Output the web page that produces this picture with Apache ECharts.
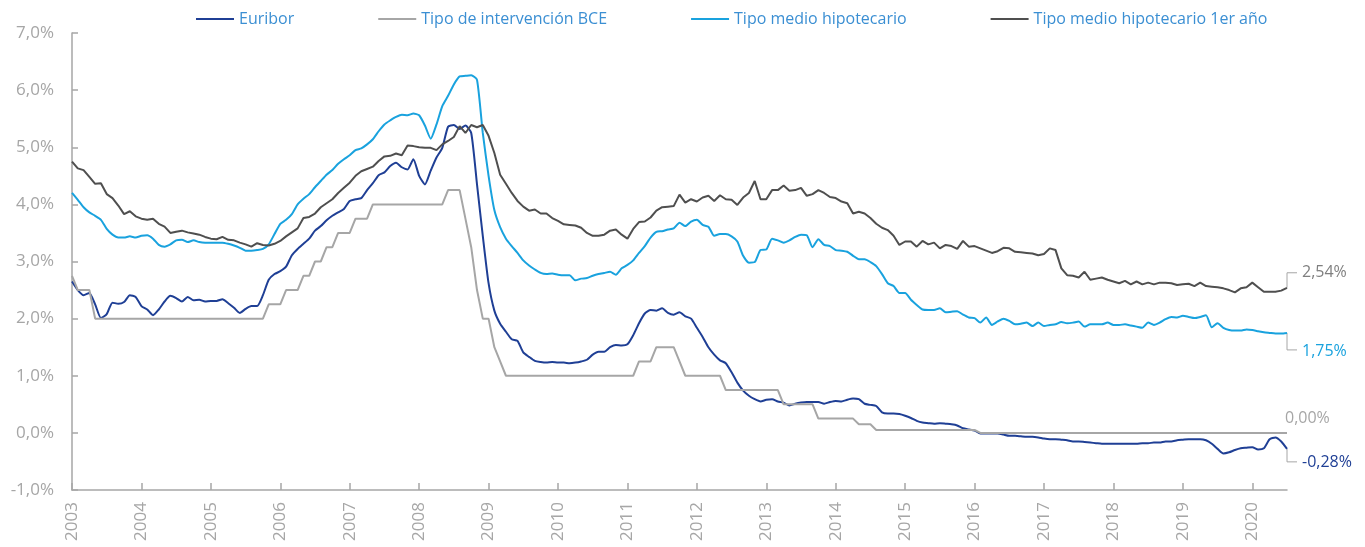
<!DOCTYPE html>
<html>
<head>
<meta charset="utf-8">
<script src="https://cdn.jsdelivr.net/npm/echarts/dist/echarts.min.js"></script>
<style>
html, body { margin: 0; padding: 0; background: #fff; }
#main { width: 1365px; height: 547px; }
</style>
</head>
<body>
<div id="main"></div>
<script>
// años del eje (datos mensuales ene 2003 - jul 2020)
var years = ['2003', '2004', '2005', '2006', '2007', '2008', '2009', '2010', '2011',
    '2012', '2013', '2014', '2015', '2016', '2017', '2018', '2019', '2020'];
var seriesNames = ['Euribor', 'Tipo de intervención BCE', 'Tipo medio hipotecario', 'Tipo medio hipotecario 1er año'];

var euribor = [
    2.65, 2.50, 2.41, 2.45, 2.25, 2.01, 2.08, 2.28, 2.26, 2.29, 2.41, 2.38,
    2.22, 2.16, 2.06, 2.16, 2.30, 2.40, 2.36, 2.30, 2.38, 2.32, 2.33, 2.30,
    2.31, 2.31, 2.34, 2.27, 2.19, 2.10, 2.17, 2.22, 2.22, 2.41, 2.68, 2.78,
    2.83, 2.91, 3.11, 3.22, 3.31, 3.40, 3.54, 3.62, 3.72, 3.80, 3.86, 3.92,
    4.06, 4.09, 4.11, 4.25, 4.37, 4.51, 4.56, 4.67, 4.73, 4.65, 4.61, 4.79,
    4.50, 4.35, 4.59, 4.82, 4.99, 5.36, 5.39, 5.32, 5.38, 5.25, 4.35, 3.45,
    2.62, 2.14, 1.91, 1.77, 1.64, 1.61, 1.41, 1.33, 1.26, 1.24, 1.23, 1.24,
    1.23, 1.23, 1.22, 1.23, 1.25, 1.28, 1.37, 1.42, 1.42, 1.50, 1.54, 1.53,
    1.55, 1.71, 1.92, 2.09, 2.15, 2.14, 2.18, 2.10, 2.07, 2.11, 2.04, 2.00,
    1.84, 1.68, 1.50, 1.37, 1.27, 1.22, 1.06, 0.88, 0.74, 0.65, 0.59, 0.55,
    0.58, 0.59, 0.55, 0.53, 0.48, 0.51, 0.53, 0.54, 0.54, 0.54, 0.51, 0.54,
    0.56, 0.55, 0.58, 0.60, 0.59, 0.51, 0.49, 0.47, 0.36, 0.34, 0.34, 0.33,
    0.30, 0.26, 0.21, 0.18, 0.17, 0.16, 0.17, 0.16, 0.15, 0.13, 0.08, 0.06,
    0.04, -0.01, -0.01, -0.01, -0.01, -0.03, -0.05, -0.05, -0.06, -0.07, -0.07, -0.08,
    -0.10, -0.11, -0.11, -0.12, -0.13, -0.15, -0.15, -0.16, -0.17, -0.18, -0.19, -0.19,
    -0.19, -0.19, -0.19, -0.19, -0.19, -0.18, -0.18, -0.17, -0.17, -0.15, -0.15, -0.13,
    -0.12, -0.11, -0.11, -0.11, -0.13, -0.19, -0.28, -0.36, -0.34, -0.30, -0.27, -0.26,
    -0.25, -0.29, -0.27, -0.11, -0.08, -0.15, -0.28
];

var tipoBCE = [
    2.75, 2.50, 2.50, 2.50, 2.00, 2.00, 2.00, 2.00, 2.00, 2.00, 2.00, 2.00,
    2.00, 2.00, 2.00, 2.00, 2.00, 2.00, 2.00, 2.00, 2.00, 2.00, 2.00, 2.00,
    2.00, 2.00, 2.00, 2.00, 2.00, 2.00, 2.00, 2.00, 2.00, 2.00, 2.25, 2.25,
    2.25, 2.50, 2.50, 2.50, 2.75, 2.75, 3.00, 3.00, 3.25, 3.25, 3.50, 3.50,
    3.50, 3.75, 3.75, 3.75, 4.00, 4.00, 4.00, 4.00, 4.00, 4.00, 4.00, 4.00,
    4.00, 4.00, 4.00, 4.00, 4.00, 4.25, 4.25, 4.25, 3.75, 3.25, 2.50, 2.00,
    2.00, 1.50, 1.25, 1.00, 1.00, 1.00, 1.00, 1.00, 1.00, 1.00, 1.00, 1.00,
    1.00, 1.00, 1.00, 1.00, 1.00, 1.00, 1.00, 1.00, 1.00, 1.00, 1.00, 1.00,
    1.00, 1.00, 1.25, 1.25, 1.25, 1.50, 1.50, 1.50, 1.50, 1.25, 1.00, 1.00,
    1.00, 1.00, 1.00, 1.00, 1.00, 0.75, 0.75, 0.75, 0.75, 0.75, 0.75, 0.75,
    0.75, 0.75, 0.75, 0.50, 0.50, 0.50, 0.50, 0.50, 0.50, 0.25, 0.25, 0.25,
    0.25, 0.25, 0.25, 0.25, 0.15, 0.15, 0.15, 0.05, 0.05, 0.05, 0.05, 0.05,
    0.05, 0.05, 0.05, 0.05, 0.05, 0.05, 0.05, 0.05, 0.05, 0.05, 0.05, 0.05,
    0.05, 0.00, 0.00, 0.00, 0.00, 0.00, 0.00, 0.00, 0.00, 0.00, 0.00, 0.00,
    0.00, 0.00, 0.00, 0.00, 0.00, 0.00, 0.00, 0.00, 0.00, 0.00, 0.00, 0.00,
    0.00, 0.00, 0.00, 0.00, 0.00, 0.00, 0.00, 0.00, 0.00, 0.00, 0.00, 0.00,
    0.00, 0.00, 0.00, 0.00, 0.00, 0.00, 0.00, 0.00, 0.00, 0.00, 0.00, 0.00,
    0.00, 0.00, 0.00, 0.00, 0.00, 0.00, 0.00
];

var tipoHipotecario = [
    4.20, 4.08, 3.95, 3.86, 3.80, 3.73, 3.57, 3.47, 3.42, 3.42, 3.44, 3.42,
    3.45, 3.46, 3.40, 3.29, 3.26, 3.30, 3.37, 3.38, 3.34, 3.37, 3.34, 3.33,
    3.33, 3.33, 3.33, 3.31, 3.28, 3.24, 3.19, 3.19, 3.20, 3.22, 3.30, 3.48,
    3.66, 3.73, 3.83, 4.00, 4.10, 4.18, 4.30, 4.41, 4.52, 4.60, 4.71, 4.79,
    4.86, 4.95, 4.98, 5.05, 5.14, 5.28, 5.40, 5.47, 5.53, 5.57, 5.56, 5.59,
    5.56, 5.38, 5.15, 5.40, 5.72, 5.90, 6.10, 6.24, 6.25, 6.26, 6.18, 5.25,
    4.50, 3.90, 3.60, 3.40, 3.27, 3.15, 3.02, 2.93, 2.86, 2.80, 2.78, 2.79,
    2.77, 2.76, 2.76, 2.67, 2.70, 2.71, 2.75, 2.78, 2.80, 2.82, 2.77, 2.88,
    2.94, 3.02, 3.15, 3.27, 3.42, 3.52, 3.53, 3.56, 3.58, 3.68, 3.62, 3.70,
    3.73, 3.64, 3.61, 3.45, 3.48, 3.48, 3.44, 3.35, 3.10, 2.98, 2.99, 3.20,
    3.21, 3.40, 3.37, 3.33, 3.37, 3.43, 3.47, 3.46, 3.25, 3.39, 3.29, 3.27,
    3.20, 3.19, 3.17, 3.10, 3.04, 3.04, 2.99, 2.92, 2.78, 2.62, 2.57, 2.45,
    2.45, 2.33, 2.24, 2.16, 2.15, 2.15, 2.18, 2.11, 2.12, 2.13, 2.07, 2.02,
    2.01, 1.93, 2.02, 1.89, 1.95, 2.00, 1.96, 1.90, 1.91, 1.93, 1.87, 1.93,
    1.87, 1.89, 1.90, 1.94, 1.92, 1.93, 1.95, 1.86, 1.90, 1.90, 1.90, 1.93,
    1.89, 1.89, 1.90, 1.88, 1.86, 1.84, 1.93, 1.89, 1.93, 1.99, 2.03, 2.02,
    2.05, 2.03, 2.01, 2.03, 2.06, 1.85, 1.92, 1.84, 1.80, 1.79, 1.79, 1.81,
    1.80, 1.78, 1.76, 1.75, 1.74, 1.74, 1.75
];

var tipoHipotecario1 = [
    4.75, 4.63, 4.60, 4.48, 4.36, 4.37, 4.18, 4.11, 3.98, 3.83, 3.88, 3.79,
    3.75, 3.73, 3.75, 3.66, 3.61, 3.50, 3.52, 3.54, 3.51, 3.49, 3.47, 3.43,
    3.40, 3.39, 3.43, 3.38, 3.37, 3.33, 3.30, 3.26, 3.32, 3.29, 3.28, 3.31,
    3.36, 3.44, 3.51, 3.58, 3.76, 3.78, 3.84, 3.95, 4.02, 4.09, 4.20, 4.29,
    4.38, 4.50, 4.58, 4.62, 4.66, 4.76, 4.84, 4.85, 4.89, 4.86, 5.03, 5.02,
    5.00, 4.99, 4.99, 4.95, 5.05, 5.11, 5.18, 5.37, 5.25, 5.39, 5.35, 5.39,
    5.20, 4.90, 4.52, 4.36, 4.20, 4.06, 3.96, 3.89, 3.91, 3.84, 3.84, 3.76,
    3.71, 3.65, 3.64, 3.63, 3.59, 3.50, 3.45, 3.45, 3.47, 3.54, 3.56, 3.47,
    3.40, 3.57, 3.69, 3.70, 3.77, 3.89, 3.95, 3.96, 3.97, 4.17, 4.03, 4.09,
    4.05, 4.12, 4.15, 4.06, 4.16, 4.09, 4.08, 3.99, 4.12, 4.20, 4.41, 4.09,
    4.09, 4.25, 4.25, 4.33, 4.24, 4.25, 4.29, 4.15, 4.18, 4.25, 4.20, 4.13,
    4.11, 4.05, 4.02, 3.84, 3.87, 3.84, 3.76, 3.66, 3.59, 3.55, 3.45, 3.29,
    3.35, 3.35, 3.26, 3.36, 3.30, 3.33, 3.23, 3.29, 3.27, 3.22, 3.36, 3.26,
    3.27, 3.23, 3.19, 3.15, 3.18, 3.24, 3.23, 3.17, 3.16, 3.15, 3.14, 3.11,
    3.13, 3.23, 3.20, 2.88, 2.76, 2.75, 2.72, 2.82, 2.68, 2.70, 2.72, 2.68,
    2.65, 2.62, 2.66, 2.60, 2.65, 2.60, 2.63, 2.60, 2.63, 2.63, 2.62, 2.59,
    2.60, 2.61, 2.57, 2.63, 2.57, 2.56, 2.55, 2.53, 2.50, 2.46, 2.53, 2.55,
    2.63, 2.55, 2.47, 2.47, 2.47, 2.49, 2.54
];

var colores = ['#1f3f95', '#a6a6a6', '#19a2de', '#4f4f4f'];
var fuente = 'Open Sans';

// categorias mensuales
var meses = [];
for (var i = 0; i < euribor.length; i++) {
    meses.push(years[Math.floor(i / 12)] + '-' + ('0' + (i % 12 + 1)).slice(-2));
}

function esEnero(index) {
    return index % 12 === 0;
}

function pct(v, d) {
    return v.toFixed(d).replace('.', ',') + '%';
}

var chart = echarts.init(document.getElementById('main'));
var datos = [euribor, tipoBCE, tipoHipotecario, tipoHipotecario1];

var series = [];
for (var s = 0; s < datos.length; s++) {
    series.push({
        name: seriesNames[s],
        type: 'line',
        data: datos[s],
        symbol: 'none',
        showSymbol: false,
        smooth: (s === 0 || s === 2) ? 0.2 : false,
        lineStyle: { width: 2, color: colores[s] },
        itemStyle: { color: colores[s] }
    });
}

chart.setOption({
    animation: false,
    backgroundColor: '#fff',
    legend: {
        data: seriesNames,
        icon: 'rect',
        left: 191,
        top: 6,
        itemWidth: 38,
        itemHeight: 2,
        itemGap: 84,
        textStyle: { color: '#3b8fd3', fontSize: 16, fontFamily: fuente }
    },
    grid: { left: 72, right: 78, top: 33, bottom: 57, containLabel: false },
    xAxis: {
        type: 'category',
        data: meses,
        boundaryGap: false,
        axisLine: { onZero: false, lineStyle: { color: '#a6a6a6', width: 1.5 } },
        axisTick: { inside: true, length: 7, interval: esEnero, lineStyle: { color: '#a6a6a6', width: 1.5 } },
        axisLabel: {
            interval: esEnero,
            rotate: 90,
            margin: 12,
            padding: [8, 0, 0, 0],
            color: '#a6a6a6',
            fontSize: 17,
            fontFamily: fuente,
            formatter: function (v) { return v.slice(0, 4); }
        },
        splitLine: { show: false }
    },
    yAxis: {
        type: 'value',
        min: -1,
        max: 7,
        interval: 1,
        axisLine: { show: true, lineStyle: { color: '#a6a6a6', width: 1.5 } },
        axisTick: { show: true, inside: true, length: 6, lineStyle: { color: '#a6a6a6', width: 1.5 } },
        axisLabel: {
            margin: 18,
            color: '#a6a6a6',
            fontSize: 17,
            fontFamily: fuente,
            formatter: function (v) { return pct(v, 1); }
        },
        splitLine: { show: false }
    },
    series: series
});

// etiquetas finales con linea guia
var finales = [
    { s: 0, dy: 13, ty: 14, guia: true, color: '#1f3f95' },
    { s: 1, dy: 0, ty: -14, guia: false, color: '#a6a6a6' },
    { s: 2, dy: 17, ty: 19, guia: true, color: '#19a2de' },
    { s: 3, dy: -15, ty: -15, guia: true, color: '#7f7f7f' }
];
var graficos = [];
finales.forEach(function (f) {
    var serie = datos[f.s];
    var ultimo = serie.length - 1;
    var p = chart.convertToPixel({ seriesIndex: f.s }, [ultimo, serie[ultimo]]);
    if (f.guia) {
        graficos.push({
            type: 'polyline',
            shape: { points: [[p[0], p[1]], [p[0], p[1] + f.dy], [p[0] + 10, p[1] + f.dy]] },
            style: { stroke: '#a6a6a6', lineWidth: 1, fill: null },
            silent: true
        });
    }
    graficos.push({
        type: 'text',
        x: f.guia ? p[0] + 15 : p[0] - 2,
        y: p[1] + f.ty,
        style: {
            text: pct(serie[ultimo], 2),
            fill: f.color,
            fontSize: 16,
            fontFamily: fuente,
            verticalAlign: 'middle',
            align: 'left'
        },
        silent: true
    });
});
chart.setOption({ graphic: graficos });
</script>
</body>
</html>
